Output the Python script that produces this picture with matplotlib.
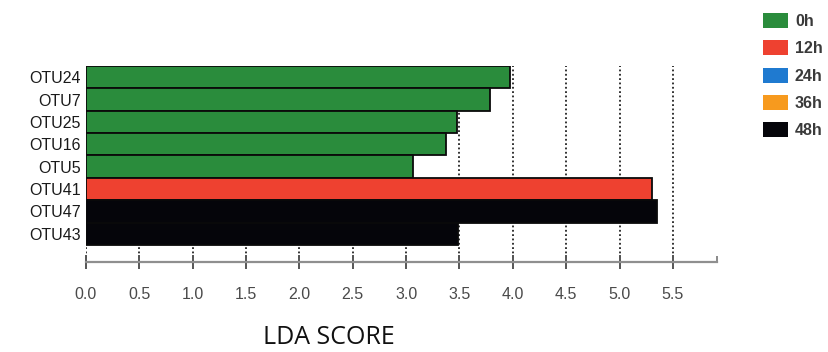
import matplotlib
matplotlib.use("Agg")
import matplotlib.pyplot as plt
from matplotlib.patches import Patch

# LEfSe LDA scores per OTU and the group in which each is enriched
otus = ["OTU24", "OTU7", "OTU25", "OTU16", "OTU5", "OTU41", "OTU47", "OTU43"]
lda_scores = [3.97, 3.79, 3.48, 3.37, 3.06, 5.30, 5.35, 3.49]
otu_groups = ["0h", "0h", "0h", "0h", "0h", "12h", "48h", "48h"]

groups = ["0h", "12h", "24h", "36h", "48h"]
group_colors = ["#2a8c3c", "#ee4130", "#1f7ad0", "#f79a1e", "#05050a"]

x_ticks = [0.0, 0.5, 1.0, 1.5, 2.0, 2.5, 3.0, 3.5, 4.0, 4.5, 5.0, 5.5]
x_max = 5.91

color_of = dict(zip(groups, group_colors))

fig = plt.figure(figsize=(8.29, 3.52), dpi=100)
ax = fig.add_axes([0.1037, 0.2557, 0.7608, 0.5568])

# dotted reference lines at every tick, behind the bars
for t in x_ticks:
    ax.axvline(t, color="#222222", linestyle=(0, (1, 1.4)), linewidth=1.3, zorder=0)

ypos = list(range(len(otus)))
ax.barh(ypos, lda_scores, height=1.0,
        color=[color_of[g] for g in otu_groups],
        edgecolor="#0a0a0a", linewidth=1.3, zorder=2)

ax.set_xlim(0, x_max)
ax.set_ylim(len(otus) - 1 + 0.5 + 0.76, -0.5)

ax.set_yticks(ypos)
ax.set_yticklabels(otus, fontsize=11.5, color="#1a1a1a", family="Liberation Sans")
ax.tick_params(axis="y", length=0, pad=4)

ax.set_xticks(x_ticks)
ax.set_xticklabels([f"{t:.1f}" for t in x_ticks], fontsize=11.5, color="#4a4a4a",
                   family="Liberation Sans")
ax.tick_params(axis="x", direction="inout", length=10, width=1.4,
               color="#555555", pad=13)
ax.set_xticks([x_max], minor=True)
ax.tick_params(axis="x", which="minor", direction="in", length=4.5, width=1.4,
               color="#8a8a8a")

for side in ["left", "right", "top"]:
    ax.spines[side].set_visible(False)
ax.spines["bottom"].set_color("#8f8f8f")
ax.spines["bottom"].set_linewidth(1.6)

fig.text(0.397, 0.040, "LDA SCORE", fontsize=18, family="Open Sans",
         color="#111111", ha="center", va="center")

handles = [Patch(facecolor=c, edgecolor="none", label=g)
           for g, c in zip(groups, group_colors)]
fig.legend(handles=handles, loc="upper left",
           bbox_to_anchor=(762.7 / 829, 1 - 13.0 / 352),
           frameon=False, borderpad=0, borderaxespad=0,
           handlelength=1.57, handleheight=1.05, handletextpad=0.45,
           labelspacing=0.72,
           prop={"family": "Liberation Sans", "size": 11.5, "weight": "bold"},
           labelcolor="#3a3a3a")

fig.savefig("out.png", dpi=100)
